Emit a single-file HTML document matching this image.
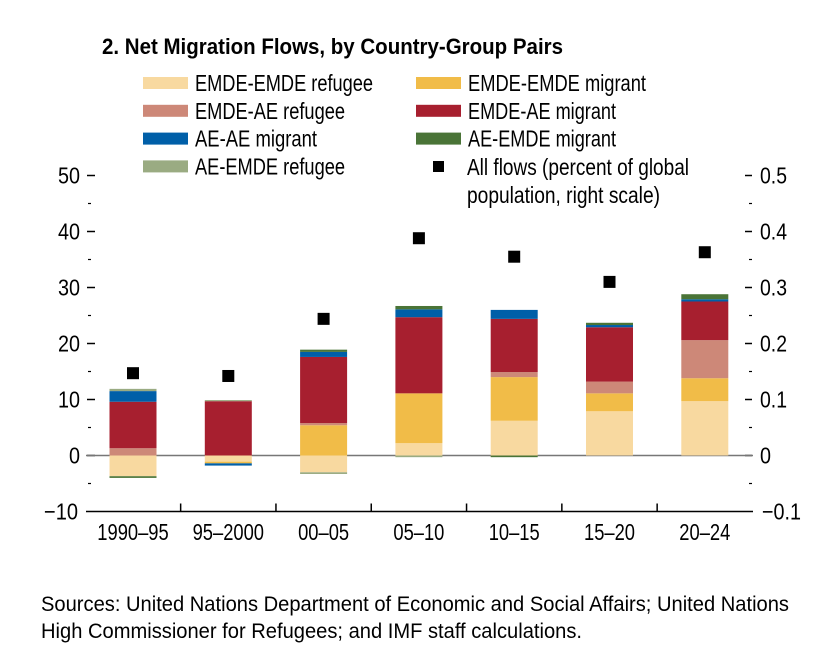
<!DOCTYPE html>
<html><head><meta charset="utf-8"><style>
body{margin:0;background:#fff}
svg{display:block;font-family:"Liberation Sans Narrow","Liberation Sans",sans-serif}
</style></head><body>
<svg id="c" width="836" height="650" viewBox="0 0 836 650" xmlns="http://www.w3.org/2000/svg">
<text x="102" y="54" font-size="22" font-weight="bold" textLength="461" lengthAdjust="spacingAndGlyphs">2. Net Migration Flows, by Country-Group Pairs</text>
<g id="legend"></g>
<g id="axes"></g>
<g id="bars"></g>
<g id="dots"></g>
<text x="41" y="611" font-size="21" textLength="748" lengthAdjust="spacingAndGlyphs">Sources: United Nations Department of Economic and Social Affairs; United Nations</text>
<text x="41" y="638" font-size="21" textLength="541" lengthAdjust="spacingAndGlyphs">High Commissioner for Refugees; and IMF staff calculations.</text>
</svg>
<script>
const categories=["1990–95","95–2000","00–05","05–10","10–15","15–20","20–24"];
const seriesNames=["EMDE-EMDE refugee","EMDE-EMDE migrant","EMDE-AE refugee","EMDE-AE migrant","AE-AE migrant","AE-EMDE migrant","AE-EMDE refugee"];
const eeRefugee=[-3.7,-1.1,-3.0,2.2,6.2,7.9,9.7];
const eeMigrant=[0,-0.3,5.4,8.9,7.8,3.2,4.1];
const eaRefugee=[1.3,0,0.4,0,0.9,2.1,6.8];
const eaMigrant=[8.3,9.7,11.8,13.6,9.5,9.7,6.9];
const aaMigrant=[1.9,-0.4,0.9,1.4,1.6,0.4,0.4];
const aeMigrant=[-0.3,0,0.4,0.6,-0.3,0.4,0.9];
const aeRefugee=[0.4,0.2,-0.3,-0.3,0,0,0];
const allFlows=[0.147,0.142,0.244,0.388,0.355,0.310,0.363];
const leftTicks=[-10,0,10,20,30,40,50];
const rightTicks=["−0.1","0","0.1","0.2","0.3","0.4","0.5"];
const leftLabels=["−10","0","10","20","30","40","50"];
const colors=["#f8d9a0","#f1bc48","#cd8878","#a71f2f","#005fa8","#4a7437","#9aab82"];
const series=[eeRefugee,eeMigrant,eaRefugee,eaMigrant,aaMigrant,aeMigrant,aeRefugee];
const NS="http://www.w3.org/2000/svg";
const y0=455.5, ppu=5.6;
const y=v=>y0-v*ppu;
const yr=v=>y0-v*ppu*100;
const x=i=>133+95.3*i;
function mk(tag,attrs,parent,txt){const e=document.createElementNS(NS,tag);for(const k in attrs)e.setAttribute(k,attrs[k]);if(txt!==undefined)e.textContent=txt;parent.appendChild(e);return e;}
function numW(s){let w=0;for(const ch of s){w+=(ch==='.')?5:(ch==='−'?12:11);}return w;}
const ax=document.getElementById('axes'),bars=document.getElementById('bars'),dots=document.getElementById('dots'),lg=document.getElementById('legend');
leftTicks.forEach((t,i)=>{
  const yy=y(t);
  const l=mk('text',{x:i==0?78:80,y:yy+8,'font-size':23,'text-anchor':'end',textLength:numW(leftLabels[i]),lengthAdjust:'spacingAndGlyphs'},ax,leftLabels[i]);
  
  
  const r=mk('text',{x:i==0?762:760,y:yy+8,'font-size':23,textLength:numW(rightTicks[i]),lengthAdjust:'spacingAndGlyphs'},ax,rightTicks[i]);
  
  
  if(i>0){
    const a=mk('line',{x1:87,x2:95,y1:yy,y2:yy,stroke:'#000','stroke-width':1.5},ax);
    
    
    const b=mk('line',{x1:745,x2:752,y1:yy,y2:yy,stroke:'#000','stroke-width':1.5},ax);
    
    
  }
  if(i<leftTicks.length-1){
    const ym=y(t+5);
    const c=mk('line',{x1:88,x2:91,y1:ym,y2:ym,stroke:'#000','stroke-width':1.2},ax);
    
    
    const d=mk('line',{x1:749,x2:752,y1:ym,y2:ym,stroke:'#000','stroke-width':1.2},ax);
    
    
  }
});
const xa=mk('line',{x1:86,x2:753,y1:y(-10),y2:y(-10),stroke:'#000','stroke-width':1.5},ax);


categories.forEach((c,i)=>{
  const t=mk('text',{x:x(i),y:540,'font-size':23,'text-anchor':'middle',textLength:c.length*10.2,lengthAdjust:'spacingAndGlyphs'},ax,c);
  
  
  if(i>0){const tk=mk('line',{x1:x(i)-47.65,x2:x(i)-47.65,y1:y(-10),y2:y(-10)-8,stroke:'#000','stroke-width':1.5},ax);
  
  }
});
categories.forEach((c,i)=>{
  let pos=0,neg=0;
  series.forEach((s,k)=>{
    const v=s[i]; if(!v)return;
    let a,b; if(v>0){a=pos;b=pos+v;pos=b;}else{a=neg;b=neg+v;neg=b;}
    const r=mk('rect',{x:x(i)-23.5,width:47,y:Math.min(y(a),y(b)),height:Math.abs(y(a)-y(b)),fill:colors[k]},bars);
    
    
  });
  const d=mk('rect',{x:x(i)-6,y:yr(allFlows[i])-6,width:12,height:12,fill:'#000'},dots);
  
  
});
const zl=mk('line',{x1:86,x2:753,y1:y0,y2:y0,stroke:'#777','stroke-width':1.5},ax);


const legW=[178,178,150,148,122,148,150];
seriesNames.forEach((n,k)=>{
  const col=k%2, row=Math.floor(k/2);
  const sx=col?416:143, yy=83+row*27.8;
  const s=mk('rect',{x:sx,y:yy-6,width:45,height:12,fill:colors[k]},lg);
  
  
  const t=mk('text',{x:sx+52,y:yy+8,'font-size':23,textLength:legW[k],lengthAdjust:'spacingAndGlyphs'},lg,n);
  
  
});
const ds=mk('rect',{x:433,y:161,width:11,height:11,fill:'#000'},lg);


const t1=mk('text',{x:467,y:175,'font-size':23,textLength:222,lengthAdjust:'spacingAndGlyphs'},lg,"All flows (percent of global");


const t2=mk('text',{x:467,y:203,'font-size':23,textLength:193,lengthAdjust:'spacingAndGlyphs'},lg,"population, right scale)");


</script>
</body></html>
